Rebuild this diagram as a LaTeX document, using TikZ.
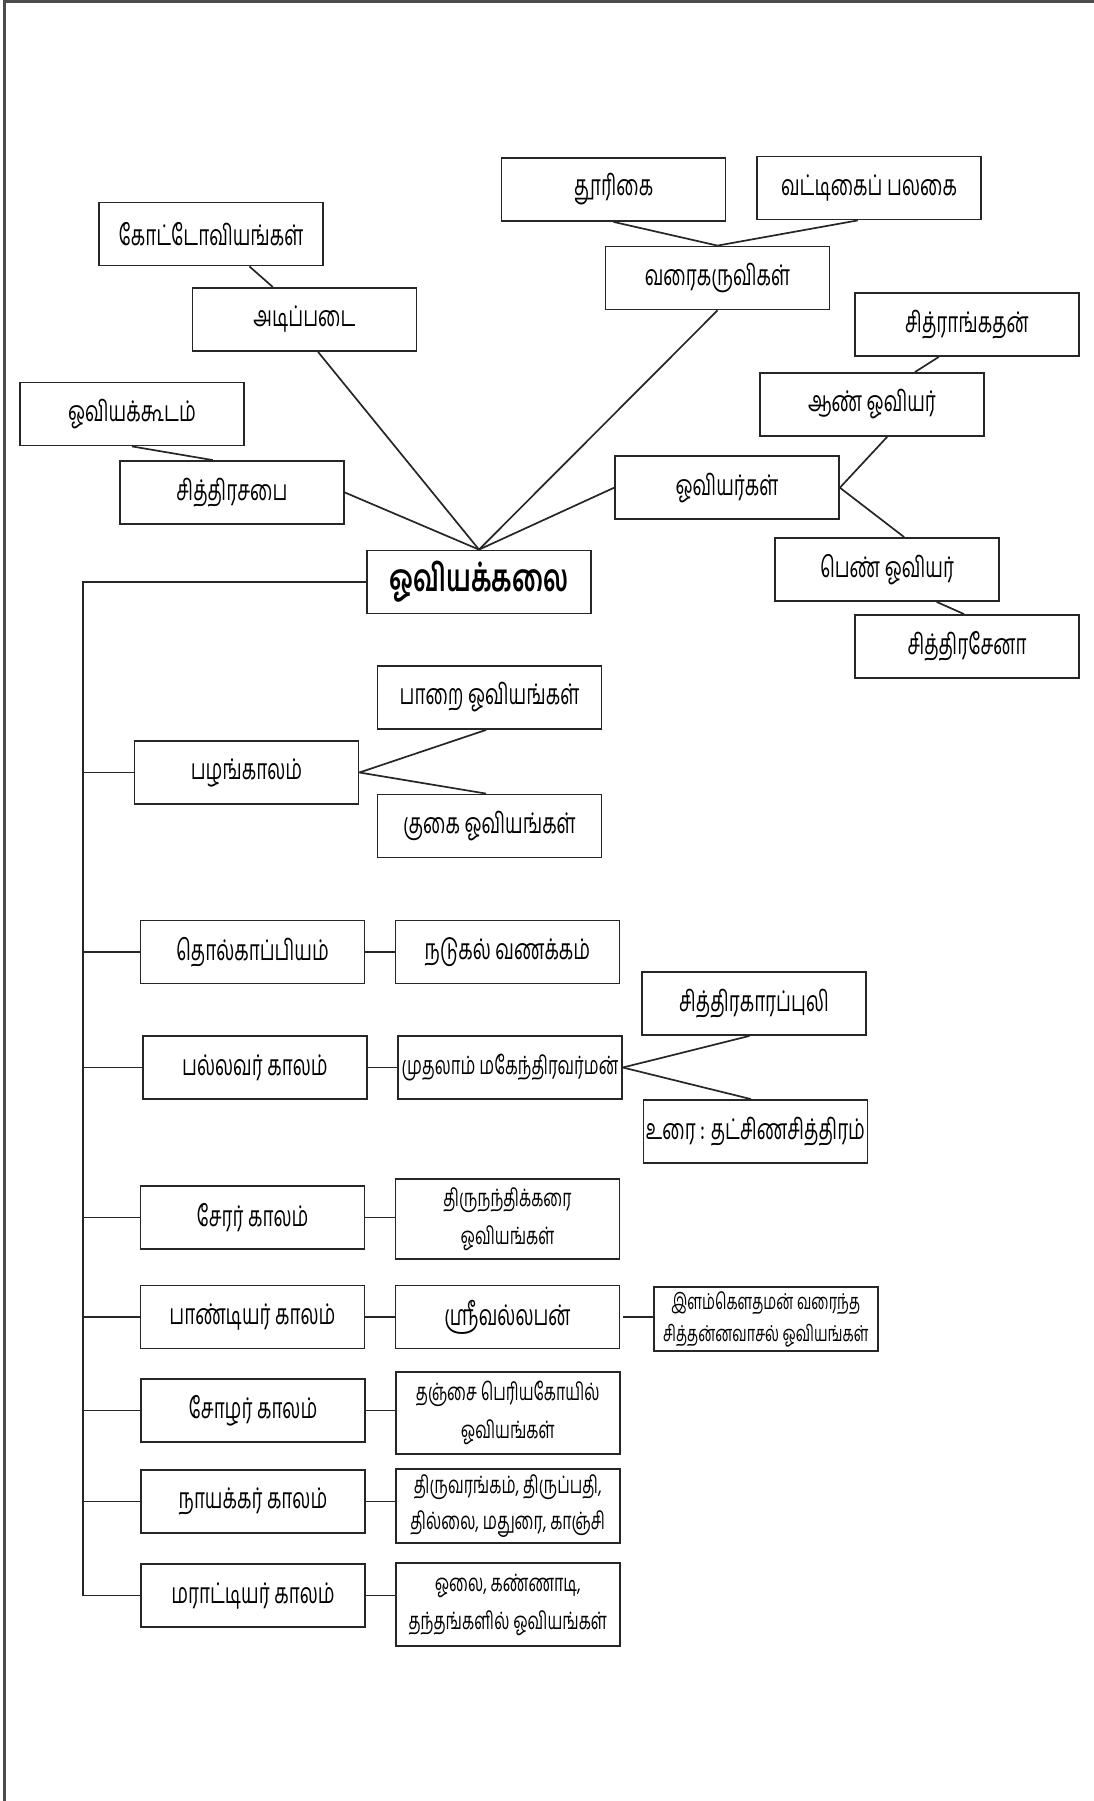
\documentclass[tikz,border=0pt]{standalone}
\usepackage{fontspec}
\setmainfont[Script=Tamil,FakeStretch=0.66]{Hind Madurai}
\usetikzlibrary{calc}
\begin{document}
\begin{tikzpicture}[x=1pt,y=-1pt]
\tikzset{
  bx/.style={draw=black!85, line width=1.8pt, minimum width=224pt, minimum height=63pt,
    inner sep=0pt, align=center, font=\fontsize{28.5}{38}\selectfont},
  two/.style={font=\fontsize{24}{38}\selectfont},
  ln/.style={line width=1.7pt, draw=black!85},
  border/.style={line width=2.5pt, draw=black!70}
}
\useasboundingbox (0,0) rectangle (1094,1801);
\draw[border] (4.5,1801) -- (4.5,1.5) -- (1094,1.5);

% top part
\node[bx] (kot) at (211,234) {கோட்டோவியங்கள்};
\node[bx] (adi) at (304.5,319.5) {அடிப்படை};
\node[bx] (thoo) at (613.5,189.5) {தூரிகை};
\node[bx] (vat) at (869,188) {வட்டிகைப் பலகை};
\node[bx] (varai) at (717.5,278) {வரைகருவிகள்};
\node[bx] (chran) at (967,324.5) {சித்ராங்கதன்};
\node[bx] (aan) at (872,404.5) {ஆண் ஓவியர்};
\node[bx] (kood) at (132,414) {ஓவியக்கூடம்};
\node[bx] (sabai) at (232,492.5) {சித்திரசபை};
\node[bx] (ovgal) at (727,487.7) {ஓவியர்கள்};
\node[bx, font=\fontsize{38}{42}\selectfont\bfseries] (kalai) at (479,582) {ஓவியக்கலை};
\node[bx] (pen) at (887,569.5) {பெண் ஓவியர்};
\node[bx] (sena) at (967,646.5) {சித்திரசேனா};

\coordinate (apex) at (kalai.north);
\draw[ln] ($(kot.south west)!0.67!(kot.south east)$) -- ($(adi.north west)!0.36!(adi.north east)$);
\draw[ln] ($(adi.south west)!0.56!(adi.south east)$) -- (apex);
\draw[ln] (thoo.south) -- (varai.north);
\draw[ln] ($(vat.south west)!0.45!(vat.south east)$) -- (varai.north);
\draw[ln] (varai.south) -- (apex);
\draw[ln] (kood.south) -- ($(sabai.north west)!0.415!(sabai.north east)$);
\draw[ln] (sabai.east) -- (apex);
\draw[ln] (ovgal.west) -- (apex);
\draw[ln] ($(chran.south west)!0.375!(chran.south east)$) -- ($(aan.north west)!0.69!(aan.north east)$);
\draw[ln] ($(aan.south west)!0.567!(aan.south east)$) -- (ovgal.east);
\draw[ln] (ovgal.east) -- ($(pen.north west)!0.576!(pen.north east)$);
\draw[ln] ($(pen.south west)!0.72!(pen.south east)$) -- ($(sena.north west)!0.487!(sena.north east)$);

% lower part
\node[bx] (pazh) at (246.5,772.5) {பழங்காலம்};
\node[bx] (paarai) at (489.5,697.5) {பாறை ஓவியங்கள்};
\node[bx] (kugai) at (489.5,826) {குகை ஓவியங்கள்};
\node[bx] (thol) at (252.5,952) {தொல்காப்பியம்};
\node[bx] (naduk) at (507.5,952) {நடுகல் வணக்கம்};
\node[bx] (pall) at (255,1067.5) {பல்லவர் காலம்};
\node[bx, font=\fontsize{25.2}{30}\selectfont] (mahe) at (510,1067.5) {முதலாம் மகேந்திரவர்மன்};
\node[bx] (puli) at (754,1003.5) {சித்திரகாரப்புலி};
\node[bx] (urai) at (755.5,1131.5) {உரை : தட்சிணசித்திரம்};
\node[bx] (cher) at (252.5,1217.5) {சேரர் காலம்};
\node[bx, two, minimum height=80pt] (nandi) at (507.5,1219) {திருநந்திக்கரை\\ஓவியங்கள்};
\node[bx] (pand) at (252.5,1317) {பாண்டியர் காலம்};
\node[bx] (sree) at (507.5,1317) {ஸ்ரீவல்லபன்};
\node[bx, minimum height=64pt, font=\fontsize{22}{32}\selectfont] (ilam) at (765.8,1319) {இளம்கௌதமன் வரைந்த\\சித்தன்னவாசல் ஓவியங்கள்};
\node[bx] (chozh) at (253,1410.5) {சோழர் காலம்};
\node[bx, two, minimum height=82pt] (thanj) at (507.75,1413) {தஞ்சை பெரியகோயில்\\ஓவியங்கள்};
\node[bx] (nayak) at (253,1501.5) {நாயக்கர் காலம்};
\node[bx, minimum height=74pt, font=\fontsize{24}{36}\selectfont] (thiru) at (507.75,1506) {திருவரங்கம், திருப்பதி,\\தில்லை, மதுரை, காஞ்சி};
\node[bx] (mara) at (253,1595.5) {மராட்டியர் காலம்};
\node[bx, two, minimum height=83pt] (olai) at (507.75,1604.5) {ஓலை, கண்ணாடி,\\தந்தங்களில் ஓவியங்கள்};

\coordinate (spx) at (83,0);
\draw[ln] (kalai.west) -- (kalai.west -| spx) -- (mara.west -| spx) -- (mara.west);
\foreach \b in {pazh,thol,pall,cher,pand,chozh,nayak}
  \draw[ln] (\b.west -| spx) -- (\b.west);
\draw[ln] (pazh.east) -- ($(paarai.south west)!0.485!(paarai.south east)$);
\draw[ln] (pazh.east) -- ($(kugai.north west)!0.485!(kugai.north east)$);
\draw[ln] (thol.east) -- (thol.east -| naduk.west);
\draw[ln] (pall.east) -- (pall.east -| mahe.west);
\draw[ln] (mahe.east) -- ($(puli.south west)!0.48!(puli.south east)$);
\draw[ln] (mahe.east) -- ($(urai.north west)!0.48!(urai.north east)$);
\draw[ln] (cher.east) -- (cher.east -| nandi.west);
\draw[ln] (pand.east) -- (pand.east -| sree.west);
\draw[ln] (sree.east) ++(3,0) -- (sree.east -| ilam.west);
\draw[ln] (chozh.east) -- (chozh.east -| thanj.west);
\draw[ln] (nayak.east) -- (nayak.east -| thiru.west);
\draw[ln] (mara.east) -- (mara.east -| olai.west);
\end{tikzpicture}
\end{document}
